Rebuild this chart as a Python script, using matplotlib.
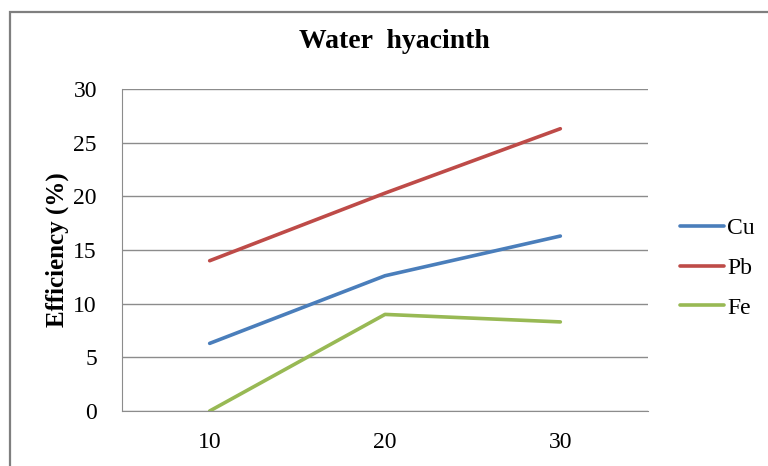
import matplotlib
matplotlib.use("Agg")
import matplotlib.pyplot as plt
from matplotlib.patches import Rectangle

plt.rcParams['font.family'] = ['Liberation Serif', 'DejaVu Serif']

# data
dias = ["10", "20", "30"]
cu = [6.3, 12.6, 16.3]
pb = [14.0, 20.3, 26.3]
fe = [0.0, 9.0, 8.3]

series = [("Cu", cu, "#4A7EBB"), ("Pb", pb, "#BE4B48"), ("Fe", fe, "#98B954")]

fig = plt.figure(figsize=(7.68, 4.66), dpi=100)
ax = fig.add_axes([122/768, 1-411/466, (648-122)/768, (411-89)/466])

# chart border like excel (cut on right and bottom)
fig.patches.append(Rectangle((10/768, -0.2), 1.5, 1-12/466+0.2, transform=fig.transFigure,
                             fill=False, edgecolor="#7f7f7f", linewidth=1.6))

x = list(range(len(dias)))
for nombre, vals, col in series:
    ax.plot(x, vals, color=col, linewidth=2.6, label=nombre, solid_capstyle="round")

ax.set_xlim(-0.5, len(dias)-0.5)
ax.set_ylim(0, 30)
ax.set_yticks(range(0, 31, 5))
ax.set_xticks(x)
ax.set_xticklabels(dias)
ax.grid(axis="y", color="#8c8c8c", linewidth=1)
ax.set_axisbelow(True)
for s in ["top", "right"]:
    ax.spines[s].set_visible(False)
ax.spines["left"].set_color("#8c8c8c")
ax.spines["bottom"].set_color("#8c8c8c")
ax.tick_params(length=0, labelsize=17)
ax.tick_params(axis="y", pad=18)
ax.tick_params(axis="x", pad=15)

ax.set_ylabel("Efficiency (%)", fontsize=18, fontweight="bold")
ax.yaxis.set_label_coords(-0.1, 0.5)
fig.text(394/768, 1-48/466, "Water  hyacinth", fontsize=20, fontweight="bold",
         ha="center", va="baseline")

ax.legend(loc="center left", bbox_to_anchor=(1.061, 0.444), frameon=False, fontsize=17,
          handlelength=1.86, handletextpad=0.13, labelspacing=0.78,
          borderpad=0, borderaxespad=0)

plt.savefig("out.png", dpi=100)
